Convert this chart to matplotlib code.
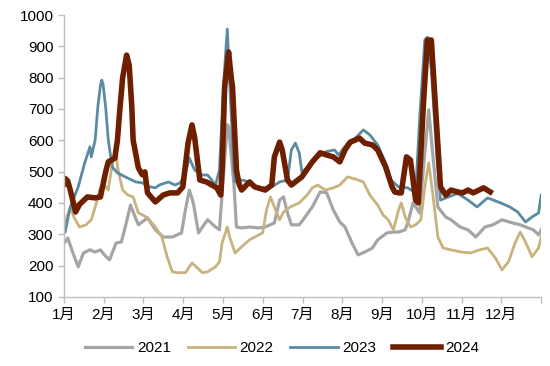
import numpy as np
import matplotlib
matplotlib.use("Agg")
import matplotlib.pyplot as plt

plt.rcParams['font.family'] = ['Liberation Sans', 'Noto Sans CJK SC', 'DejaVu Sans']

# month tick labels
months = ['1月', '2月', '3月', '4月', '5月', '6月', '7月', '8月', '9月', '10月', '11月', '12月']

# each year: day of year, value
days_2021 = [1, 3, 7, 11, 15, 20, 24, 28, 31, 35, 40, 44, 47, 51, 53, 57, 64, 70, 76, 83, 90, 93, 96, 99, 103, 106,
             110, 116, 119, 122, 125, 126, 130, 132, 136, 142, 149, 154, 161, 165, 168, 171, 174, 180, 184, 190,
             196, 201, 206, 211, 215, 220, 225, 230, 236, 240, 247, 252, 256, 261, 263, 267, 272, 276, 279, 282,
             286, 292, 296, 303, 309, 315, 322, 328, 335, 343, 349, 355, 359, 363, 365]
vals_2021 = [275, 288, 240, 196, 240, 250, 243, 250, 234, 218, 272, 275, 323, 393, 371, 330, 352, 314, 291, 291, 304,
             378, 441, 400, 304, 323, 346, 323, 314, 483, 650, 642, 464, 323, 320, 323, 320, 323, 336, 409, 419, 368,
             330, 330, 352, 387, 435, 432, 378, 339, 323, 275, 234, 243, 256, 282, 304, 307, 307, 314, 336, 400, 368,
             560, 697, 560, 387, 355, 346, 323, 314, 291, 323, 330, 346, 336, 330, 320, 314, 298, 314]

days_2022 = [1, 5, 8, 12, 17, 21, 24, 28, 31, 34, 36, 39, 40, 41, 45, 49, 53, 57, 60, 64, 70, 75, 79, 83, 87, 93, 98,
             102, 106, 110, 116, 119, 121, 125, 127, 131, 136, 142, 146, 152, 155, 158, 161, 165, 168, 173, 180, 186,
             190, 194, 200, 206, 211, 217, 223, 229, 234, 240, 244, 248, 252, 256, 258, 261, 265, 269, 273, 276, 279,
             282, 286, 290, 296, 304, 311, 318, 324, 330, 335, 340, 345, 349, 353, 358, 363, 365]
vals_2022 = [339, 387, 352, 323, 330, 346, 387, 448, 457, 441, 496, 560, 575, 515, 441, 425, 419, 368, 362, 352, 323,
             291, 228, 180, 177, 177, 208, 193, 177, 180, 196, 212, 272, 323, 288, 240, 260, 282, 291, 304, 378, 419,
             387, 346, 371, 387, 400, 425, 448, 457, 441, 448, 457, 483, 476, 467, 425, 393, 362, 346, 314, 378, 400,
             355, 323, 330, 346, 451, 528, 432, 291, 256, 250, 243, 240, 250, 256, 224, 186, 212, 272, 307, 275, 228,
             256, 291]

days_2023 = [1, 5, 11, 16, 20, 21, 24, 26, 28, 29, 30, 32, 34, 37, 41, 47, 55, 60, 66, 70, 73, 80, 85, 89, 93, 96,
             100, 106, 110, 116, 119, 122, 125, 127, 130, 131, 136, 142, 146, 152, 159, 165, 171, 174, 177, 180, 182,
             186, 190, 200, 207, 210, 217, 223, 229, 234, 240, 246, 248, 250, 256, 263, 269, 272, 276, 278, 281, 285,
             288, 294, 301, 308, 316, 324, 334, 341, 347, 353, 358, 363, 365]
vals_2023 = [307, 387, 451, 528, 579, 547, 601, 706, 775, 792, 780, 706, 601, 515, 496, 483, 467, 464, 451, 448,
             457, 467, 457, 464, 496, 543, 505, 489, 489, 457, 505, 770, 955, 770, 505, 467, 473, 467, 451, 448, 451,
             467, 473, 569, 591, 560, 499, 512, 531, 563, 569, 553, 591, 607, 633, 617, 585, 528, 505, 473, 451, 448,
             432, 665, 920, 929, 824, 560, 409, 419, 430, 412, 387, 416, 400, 387, 371, 339, 355, 368, 425]

days_2024 = [0, 1, 3, 5, 9, 12, 18, 24, 28, 32, 34, 39, 41, 43, 45, 48, 50, 52, 53, 57, 60, 62, 64, 70, 76, 81, 87,
             91, 95, 98, 100, 104, 109, 117, 120, 121, 123, 126, 128, 129, 132, 134, 136, 142, 146, 154, 159, 161,
             165, 167, 171, 174, 182, 190, 196, 201, 206, 211, 215, 219, 223, 226, 230, 236, 240, 246, 251, 253, 256,
             258, 262, 265, 269, 271, 275, 278, 281, 284, 288, 292, 296, 301, 305, 309, 313, 321, 326]
vals_2024 = [460, 478, 470, 440, 371, 395, 419, 416, 419, 499, 531, 543, 600, 706, 800, 872, 840, 706, 601, 512, 490,
             499, 432, 403, 425, 432, 432, 451, 591, 649, 610, 473, 467, 448, 425, 505, 770, 882, 800, 770, 505, 460,
             441, 467, 451, 441, 457, 547, 594, 569, 473, 457, 483, 531, 560, 553, 547, 531, 569, 594, 601, 607, 591,
             585, 569, 515, 451, 435, 432, 432, 547, 537, 409, 400, 719, 920, 920, 719, 451, 425, 441, 435, 432, 441,
             432, 448, 435]

fig = plt.figure(figsize=(5.5, 3.66), dpi=100)
ax = fig.add_axes([0.116, 0.189, 0.868, 0.770])

ax.plot(days_2021, vals_2021, color='#A5A5A5', lw=2.3, label='2021', solid_joinstyle='round')
ax.plot(days_2022, vals_2022, color='#C9B27E', lw=2.0, label='2022', solid_joinstyle='round')
ax.plot(days_2023, vals_2023, color='#5A8BA2', lw=2.0, label='2023', solid_joinstyle='round')
ax.plot(days_2024, vals_2024, color='#6E1F00', lw=4.0, label='2024', solid_joinstyle='round')

ax.set_xlim(0, 365)
ax.set_ylim(100, 1000)
ax.set_yticks(range(100, 1001, 100))
ticks = np.arange(13) * 365 / 12
ax.set_xticks(ticks)
ax.set_xticklabels(months + [''])

for s in ['top', 'right']:
    ax.spines[s].set_visible(False)
for s in ['left', 'bottom']:
    ax.spines[s].set_color('#BFBFBF')
    ax.spines[s].set_linewidth(1.0)
ax.tick_params(axis='both', colors='#BFBFBF', labelcolor='black', labelsize=11, length=4, width=1.0)
ax.tick_params(axis='x', pad=4)

fig.legend(loc='center', bbox_to_anchor=(282 / 550, 1 - 348 / 366), ncol=4, frameon=False,
           fontsize=11, handlelength=3.1, handletextpad=0.3, columnspacing=1.1)

fig.savefig('out.png', dpi=100)
